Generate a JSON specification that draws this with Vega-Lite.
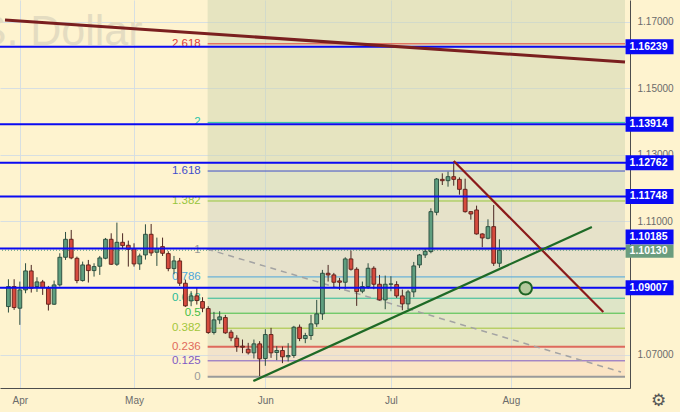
{
  "$schema": "https://vega.github.io/schema/vega-lite/v6.json",
  "width": 630,
  "height": 388,
  "autosize": "none",
  "padding": {"left": 0, "top": 0, "right": 50, "bottom": 24},
  "background": "#FEF3CF",
  "config": {
    "view": {"stroke": null, "fill": "#FEF3CF"},
    "font": "Liberation Sans",
    "axis": {
      "labelFont": "Liberation Sans",
      "labelFontSize": 10,
      "labelColor": "#6B6B6B",
      "ticks": false,
      "domainColor": "#4D4D4D",
      "gridColor": "#D3DDE3",
      "gridOpacity": 0.9
    }
  },
  "datasets": {
    "candles": [
      {"i": -2, "o": 1.0844, "h": 1.0926, "l": 1.0826, "c": 1.0904},
      {"i": -1, "o": 1.0904, "h": 1.0926, "l": 1.0834, "c": 1.0841},
      {"i": 0, "o": 1.0839, "h": 1.0919, "l": 1.0789, "c": 1.0894},
      {"i": 1, "o": 1.0894, "h": 1.0974, "l": 1.0884, "c": 1.0951},
      {"i": 2, "o": 1.0951, "h": 1.0969, "l": 1.0886, "c": 1.0899},
      {"i": 3, "o": 1.0904, "h": 1.0932, "l": 1.0888, "c": 1.0918},
      {"i": 4, "o": 1.0918, "h": 1.0924, "l": 1.0879, "c": 1.0901},
      {"i": 5, "o": 1.0899, "h": 1.0906, "l": 1.0832, "c": 1.0851},
      {"i": 6, "o": 1.0851, "h": 1.0922, "l": 1.0849, "c": 1.0909},
      {"i": 7, "o": 1.0909, "h": 1.1004, "l": 1.0904, "c": 1.0992},
      {"i": 8, "o": 1.0992, "h": 1.1068, "l": 1.0984, "c": 1.1046},
      {"i": 9, "o": 1.1046, "h": 1.1074, "l": 1.0986, "c": 1.0990},
      {"i": 10, "o": 1.0989, "h": 1.0994, "l": 1.0914, "c": 1.0922},
      {"i": 11, "o": 1.0922, "h": 1.0979, "l": 1.0919, "c": 1.0969},
      {"i": 12, "o": 1.0969, "h": 1.0984, "l": 1.0916, "c": 1.0952},
      {"i": 13, "o": 1.0952, "h": 1.0974, "l": 1.0934, "c": 1.0964},
      {"i": 14, "o": 1.0965, "h": 1.0996, "l": 1.0939, "c": 1.0990},
      {"i": 15, "o": 1.0989, "h": 1.1050, "l": 1.0986, "c": 1.1046},
      {"i": 16, "o": 1.1046, "h": 1.1064, "l": 1.0969, "c": 1.0971},
      {"i": 17, "o": 1.0971, "h": 1.1096, "l": 1.0966, "c": 1.1037},
      {"i": 18, "o": 1.1037, "h": 1.1064, "l": 1.1019, "c": 1.1027},
      {"i": 19, "o": 1.1028, "h": 1.1042, "l": 1.0964, "c": 1.1016},
      {"i": 20, "o": 1.1018, "h": 1.1034, "l": 1.0964, "c": 1.0972},
      {"i": 21, "o": 1.0972, "h": 1.1003, "l": 1.0954, "c": 1.0996},
      {"i": 22, "o": 1.0999, "h": 1.1091, "l": 1.0985, "c": 1.1061},
      {"i": 23, "o": 1.1061, "h": 1.1092, "l": 1.0996, "c": 1.1005},
      {"i": 24, "o": 1.1007, "h": 1.1051, "l": 1.0966, "c": 1.1018},
      {"i": 25, "o": 1.1024, "h": 1.1051, "l": 1.0996, "c": 1.1004},
      {"i": 26, "o": 1.1003, "h": 1.1010, "l": 1.0950, "c": 1.0958},
      {"i": 27, "o": 1.0958, "h": 1.0996, "l": 1.0941, "c": 1.0981},
      {"i": 28, "o": 1.0981, "h": 1.0990, "l": 1.0906, "c": 1.0914},
      {"i": 29, "o": 1.0914, "h": 1.0925, "l": 1.0843, "c": 1.0846},
      {"i": 30, "o": 1.0861, "h": 1.0890, "l": 1.0845, "c": 1.0876},
      {"i": 31, "o": 1.0876, "h": 1.0900, "l": 1.0850, "c": 1.0862},
      {"i": 32, "o": 1.0859, "h": 1.0872, "l": 1.0827, "c": 1.0839},
      {"i": 33, "o": 1.0838, "h": 1.0845, "l": 1.0762, "c": 1.0766},
      {"i": 34, "o": 1.0766, "h": 1.0828, "l": 1.0760, "c": 1.0804},
      {"i": 35, "o": 1.0804, "h": 1.0830, "l": 1.0792, "c": 1.0813},
      {"i": 36, "o": 1.0811, "h": 1.0819, "l": 1.0762, "c": 1.0765},
      {"i": 37, "o": 1.0767, "h": 1.0774, "l": 1.0740, "c": 1.0750},
      {"i": 38, "o": 1.0749, "h": 1.0758, "l": 1.0708, "c": 1.0724},
      {"i": 39, "o": 1.0725, "h": 1.0745, "l": 1.0704, "c": 1.0722},
      {"i": 40, "o": 1.0716, "h": 1.0735, "l": 1.0700, "c": 1.0705},
      {"i": 41, "o": 1.0705, "h": 1.0745, "l": 1.0688, "c": 1.0732},
      {"i": 42, "o": 1.0732, "h": 1.0740, "l": 1.0635, "c": 1.0687},
      {"i": 43, "o": 1.0688, "h": 1.0776, "l": 1.0666, "c": 1.0760},
      {"i": 44, "o": 1.0760, "h": 1.0780, "l": 1.0690, "c": 1.0705},
      {"i": 45, "o": 1.0706, "h": 1.0725, "l": 1.0683, "c": 1.0712},
      {"i": 46, "o": 1.0712, "h": 1.0724, "l": 1.0674, "c": 1.0693},
      {"i": 47, "o": 1.0693, "h": 1.0734, "l": 1.0679, "c": 1.0697},
      {"i": 48, "o": 1.0697, "h": 1.0786, "l": 1.0690, "c": 1.0782},
      {"i": 49, "o": 1.0782, "h": 1.0790, "l": 1.0740, "c": 1.0748},
      {"i": 50, "o": 1.0748, "h": 1.0765, "l": 1.0734, "c": 1.0757},
      {"i": 51, "o": 1.0757, "h": 1.0819, "l": 1.0744, "c": 1.0792},
      {"i": 52, "o": 1.0792, "h": 1.0864, "l": 1.0783, "c": 1.0822},
      {"i": 53, "o": 1.0822, "h": 1.0954, "l": 1.0804, "c": 1.0944},
      {"i": 54, "o": 1.0944, "h": 1.0969, "l": 1.0919, "c": 1.0939},
      {"i": 55, "o": 1.0939, "h": 1.0945, "l": 1.0900, "c": 1.0917},
      {"i": 56, "o": 1.0921, "h": 1.0930, "l": 1.0894, "c": 1.0917},
      {"i": 57, "o": 1.0917, "h": 1.0992, "l": 1.0897, "c": 1.0987},
      {"i": 58, "o": 1.0987, "h": 1.1012, "l": 1.0952, "c": 1.0956},
      {"i": 59, "o": 1.0956, "h": 1.0962, "l": 1.0846, "c": 1.0889},
      {"i": 60, "o": 1.0890, "h": 1.0919, "l": 1.0884, "c": 1.0904},
      {"i": 61, "o": 1.0904, "h": 1.0974, "l": 1.0897, "c": 1.0959},
      {"i": 62, "o": 1.0959, "h": 1.0965, "l": 1.0896, "c": 1.0911},
      {"i": 63, "o": 1.0911, "h": 1.0939, "l": 1.0862, "c": 1.0864},
      {"i": 64, "o": 1.0864, "h": 1.0937, "l": 1.0836, "c": 1.0911},
      {"i": 65, "o": 1.0911, "h": 1.0935, "l": 1.0890, "c": 1.0912},
      {"i": 66, "o": 1.0910, "h": 1.0920, "l": 1.0870, "c": 1.0876},
      {"i": 67, "o": 1.0876, "h": 1.0895, "l": 1.0833, "c": 1.0852},
      {"i": 68, "o": 1.0852, "h": 1.0894, "l": 1.0836, "c": 1.0888},
      {"i": 69, "o": 1.0888, "h": 1.0978, "l": 1.0872, "c": 1.0966},
      {"i": 70, "o": 1.0969, "h": 1.1002, "l": 1.0960, "c": 1.0999},
      {"i": 71, "o": 1.0999, "h": 1.1018, "l": 1.0990, "c": 1.1010},
      {"i": 72, "o": 1.1009, "h": 1.1139, "l": 1.1004, "c": 1.1129},
      {"i": 73, "o": 1.1127, "h": 1.1230, "l": 1.1118, "c": 1.1227},
      {"i": 74, "o": 1.1226, "h": 1.1244, "l": 1.1209, "c": 1.1222},
      {"i": 75, "o": 1.1222, "h": 1.1249, "l": 1.1204, "c": 1.1234},
      {"i": 76, "o": 1.1234, "h": 1.1274, "l": 1.1207, "c": 1.1226},
      {"i": 77, "o": 1.1226, "h": 1.1232, "l": 1.1180, "c": 1.1196},
      {"i": 78, "o": 1.1196, "h": 1.1228, "l": 1.1126, "c": 1.1129},
      {"i": 79, "o": 1.1129, "h": 1.1130, "l": 1.1105, "c": 1.1122},
      {"i": 80, "o": 1.1134, "h": 1.1147, "l": 1.1060, "c": 1.1062},
      {"i": 81, "o": 1.1062, "h": 1.1064, "l": 1.1022, "c": 1.1050},
      {"i": 82, "o": 1.1049, "h": 1.1106, "l": 1.1046, "c": 1.1084},
      {"i": 83, "o": 1.1084, "h": 1.1149, "l": 1.0966, "c": 1.0974},
      {"i": 84, "o": 1.0974, "h": 1.1046, "l": 1.0962, "c": 1.1013}
    ],
    "fib": [
      {"lv": "0", "p": 1.0633},
      {"lv": "0.125", "p": 1.0681},
      {"lv": "0.236", "p": 1.0723},
      {"lv": "0.382", "p": 1.0779},
      {"lv": "0.5", "p": 1.0824},
      {"lv": "0.618", "p": 1.0869},
      {"lv": "0.786", "p": 1.0933},
      {"lv": "1", "p": 1.1015},
      {"lv": "1.382", "p": 1.1161},
      {"lv": "1.618", "p": 1.1251},
      {"lv": "2", "p": 1.1397},
      {"lv": "2.618", "p": 1.1633}
    ],
    "bands": [
      {"top": "0.125", "lo": 1.0633, "hi": 1.0681},
      {"top": "0.236", "lo": 1.0681, "hi": 1.0723},
      {"top": "0.382", "lo": 1.0723, "hi": 1.0779},
      {"top": "0.5", "lo": 1.0779, "hi": 1.0824},
      {"top": "0.618", "lo": 1.0824, "hi": 1.0869},
      {"top": "0.786", "lo": 1.0869, "hi": 1.0933},
      {"top": "1", "lo": 1.0933, "hi": 1.1015},
      {"top": "1.382", "lo": 1.1015, "hi": 1.1161},
      {"top": "1.618", "lo": 1.1161, "hi": 1.1251},
      {"top": "upper", "lo": 1.1251, "hi": 1.17646}
    ],
    "levels": [
      {"p": 1.16239, "kind": "level"},
      {"p": 1.13914, "kind": "level"},
      {"p": 1.12762, "kind": "level"},
      {"p": 1.11748, "kind": "level"},
      {"p": 1.10185, "kind": "level"},
      {"p": 1.09007, "kind": "level"},
      {"p": 1.1013, "kind": "last"}
    ],
    "trend": [
      {"id": "a", "i": -2.6, "p": 1.17045},
      {"id": "a", "i": 106, "p": 1.15784},
      {"id": "b", "i": 76.0, "p": 1.12811},
      {"id": "b", "i": 102.2, "p": 1.08275},
      {"id": "c", "i": 40.9, "p": 1.06204},
      {"id": "c", "i": 100.2, "p": 1.10829},
      {"id": "d", "i": 32.8, "p": 1.10168},
      {"id": "d", "i": 105.3, "p": 1.06474}
    ],
    "target": [{"i": 88.6, "p": 1.0899}]
  },
  "layer": [
    {
      "data": {"name": "bands"},
      "mark": {"type": "rect", "opacity": 0.5},
      "encoding": {
        "x": {
          "datum": 32.9, "type": "quantitative", "title": null,
          "scale": {"domain": [-2.6, 106], "nice": false, "zero": false},
          "axis": {
            "orient": "bottom", "grid": true, "labelPadding": 7,
            "values": [0, 20, 43, 65, 86],
            "labelExpr": "datum.value == 0 ? 'Apr' : datum.value == 20 ? 'May' : datum.value == 43 ? 'Jun' : datum.value == 65 ? 'Jul' : 'Aug'"
          }
        },
        "x2": {"datum": 106},
        "y": {
          "field": "lo", "type": "quantitative", "title": null,
          "scale": {"domain": [1.05994, 1.17646], "nice": false, "zero": false},
          "axis": {
            "orient": "right", "grid": true, "labelPadding": 7, "format": ".5f",
            "values": [1.07, 1.08, 1.09, 1.1, 1.11, 1.12, 1.13, 1.14, 1.15, 1.16, 1.17]
          }
        },
        "y2": {"field": "hi"},
        "fill": {
          "field": "top", "type": "nominal", "legend": null,
          "scale": {
            "domain": ["0.125", "0.236", "0.382", "0.5", "0.618", "0.786", "1", "1.382", "1.618", "upper"],
            "range": ["#F8D5B9", "#E6D3C7", "#D0D9B9", "#C8DBBD", "#BED7BF", "#C4D5C5", "#CECFC7", "#CED1C3", "#C6D5BD", "#CED5B1"]
          }
        }
      }
    },
    {
      "data": {"values": [{}]},
      "mark": {"type": "text", "align": "right", "baseline": "alphabetic", "fontSize": 43, "color": "#E4DCC1", "clip": true},
      "encoding": {
        "x": {"datum": 21.5, "type": "quantitative", "title": null},
        "y": {"datum": 1.1629, "type": "quantitative", "title": null},
        "text": {"value": "Euro / U.S. Dollar"}
      }
    },
    {
      "data": {"name": "fib"},
      "mark": {"type": "rule"},
      "encoding": {
        "x": {"datum": 32.9, "type": "quantitative", "title": null},
        "x2": {"datum": 106},
        "y": {"field": "p", "type": "quantitative", "title": null},
        "color": {
          "field": "lv", "type": "nominal", "legend": null,
          "scale": {
            "domain": ["0", "0.125", "0.236", "0.382", "0.5", "0.618", "0.786", "1", "1.382", "1.618", "2", "2.618"],
            "range": ["#9A9A9A", "#7E5BC4", "#DE6A5C", "#A2C63C", "#45BE45", "#2BBA96", "#4DA6DB", "#9A9A9A", "#98C53D", "#3F4FCB", "#2CC3A8", "#E0403A"]
          }
        },
        "strokeWidth": {"condition": {"test": "datum.lv == '0' || datum.lv == '0.236'", "value": 2}, "value": 1}
      }
    },
    {
      "data": {"name": "fib"},
      "mark": {"type": "text", "align": "right", "baseline": "middle", "dx": -7, "fontSize": 11.5},
      "encoding": {
        "x": {"datum": 32.9, "type": "quantitative", "title": null},
        "y": {"field": "p", "type": "quantitative", "title": null},
        "text": {"field": "lv"},
        "color": {"field": "lv", "type": "nominal", "legend": null}
      }
    },
    {
      "data": {"name": "levels"},
      "transform": [{"filter": "datum.kind == 'last'"}],
      "mark": {"type": "rule", "color": "#5F9E7F", "strokeWidth": 1, "strokeDash": [1, 2]},
      "encoding": {"y": {"field": "p", "type": "quantitative", "title": null}}
    },
    {
      "data": {"name": "trend"},
      "transform": [{"filter": "datum.id == 'd'"}],
      "mark": {"type": "line", "color": "#A3A3A3", "strokeWidth": 1.5, "strokeDash": [6, 5]},
      "encoding": {
        "x": {"field": "i", "type": "quantitative", "title": null},
        "y": {"field": "p", "type": "quantitative", "title": null}
      }
    },
    {
      "data": {"name": "candles"},
      "mark": {"type": "rule", "strokeWidth": 1},
      "encoding": {
        "x": {"field": "i", "type": "quantitative", "title": null},
        "y": {"field": "l", "type": "quantitative", "title": null},
        "y2": {"field": "h"},
        "color": {"condition": {"test": "datum.c >= datum.o", "value": "#2E4F40"}, "value": "#4A2622"}
      }
    },
    {
      "data": {"name": "candles"},
      "mark": {"type": "bar", "size": 3.8, "strokeWidth": 0.9},
      "encoding": {
        "x": {"field": "i", "type": "quantitative", "title": null},
        "y": {"field": "o", "type": "quantitative", "title": null},
        "y2": {"field": "c"},
        "fill": {"condition": {"test": "datum.c >= datum.o", "value": "#5F9E7F"}, "value": "#D64B3E"},
        "stroke": {"condition": {"test": "datum.c >= datum.o", "value": "#27483A"}, "value": "#5E1E18"}
      }
    },
    {
      "data": {"name": "levels"},
      "transform": [{"filter": "datum.kind == 'level'"}],
      "mark": {"type": "rule", "color": "#0A0AF2", "strokeWidth": 2},
      "encoding": {"y": {"field": "p", "type": "quantitative", "title": null}}
    },
    {
      "data": {"name": "trend"},
      "transform": [{"filter": "datum.id == 'a'"}],
      "mark": {"type": "line", "color": "#7A1F1F", "strokeWidth": 3},
      "encoding": {
        "x": {"field": "i", "type": "quantitative", "title": null},
        "y": {"field": "p", "type": "quantitative", "title": null}
      }
    },
    {
      "data": {"name": "trend"},
      "transform": [{"filter": "datum.id == 'b'"}],
      "mark": {"type": "line", "color": "#8B1A1A", "strokeWidth": 2.2},
      "encoding": {
        "x": {"field": "i", "type": "quantitative", "title": null},
        "y": {"field": "p", "type": "quantitative", "title": null}
      }
    },
    {
      "data": {"name": "trend"},
      "transform": [{"filter": "datum.id == 'c'"}],
      "mark": {"type": "line", "color": "#1E6A26", "strokeWidth": 2.2},
      "encoding": {
        "x": {"field": "i", "type": "quantitative", "title": null},
        "y": {"field": "p", "type": "quantitative", "title": null}
      }
    },
    {
      "data": {"name": "target"},
      "mark": {"type": "point", "shape": "circle", "filled": true, "size": 160, "fill": "#B3C99C", "stroke": "#1E6424", "strokeWidth": 2, "opacity": 1},
      "encoding": {
        "x": {"field": "i", "type": "quantitative", "title": null},
        "y": {"field": "p", "type": "quantitative", "title": null}
      }
    },
    {
      "data": {"name": "levels"},
      "transform": [{"filter": "datum.kind == 'level' && datum.p != 1.10185"}],
      "encoding": {
        "x": {"datum": 110.3, "type": "quantitative", "title": null},
        "y": {"field": "p", "type": "quantitative", "title": null}
      },
      "layer": [
        {"mark": {"type": "tick", "orient": "horizontal", "size": 48, "thickness": 15, "color": "#0A0AF5", "opacity": 1}},
        {"mark": {"type": "text", "align": "center", "baseline": "middle", "fontSize": 10.5, "fontWeight": "bold", "color": "#FFFFFF", "dx": -1},
         "encoding": {"text": {"field": "p", "type": "quantitative", "format": ".5f"}}}
      ]
    },
    {
      "data": {"name": "levels"},
      "transform": [{"filter": "datum.p == 1.10185"}],
      "encoding": {
        "x": {"datum": 110.3, "type": "quantitative", "title": null},
        "y": {"field": "p", "type": "quantitative", "title": null}
      },
      "layer": [
        {"mark": {"type": "tick", "orient": "horizontal", "size": 48, "thickness": 15, "color": "#0A0AF5", "opacity": 1, "yOffset": -11.5}},
        {"mark": {"type": "text", "align": "center", "baseline": "middle", "fontSize": 10.5, "fontWeight": "bold", "color": "#FFFFFF", "yOffset": -11.5, "dx": -1},
         "encoding": {"text": {"field": "p", "type": "quantitative", "format": ".5f"}}}
      ]
    },
    {
      "data": {"name": "levels"},
      "transform": [{"filter": "datum.kind == 'last'"}],
      "encoding": {
        "x": {"datum": 110.3, "type": "quantitative", "title": null},
        "y": {"field": "p", "type": "quantitative", "title": null}
      },
      "layer": [
        {"mark": {"type": "tick", "orient": "horizontal", "size": 48, "thickness": 13, "color": "#6A9C7E", "opacity": 1, "yOffset": 1}},
        {"mark": {"type": "text", "align": "center", "baseline": "middle", "fontSize": 10.5, "fontWeight": "bold", "color": "#FFFFFF", "yOffset": 1, "dx": -1},
         "encoding": {"text": {"field": "p", "type": "quantitative", "format": ".5f"}}}
      ]
    },
    {
      "data": {"values": [{}]},
      "mark": {"type": "text", "align": "center", "baseline": "middle", "fontSize": 17, "font": "DejaVu Sans", "color": "#555555"},
      "encoding": {
        "x": {"datum": 111.9, "type": "quantitative", "title": null},
        "y": {"datum": 1.0561, "type": "quantitative", "title": null},
        "text": {"value": "⚙"}
      }
    }
  ]
}
